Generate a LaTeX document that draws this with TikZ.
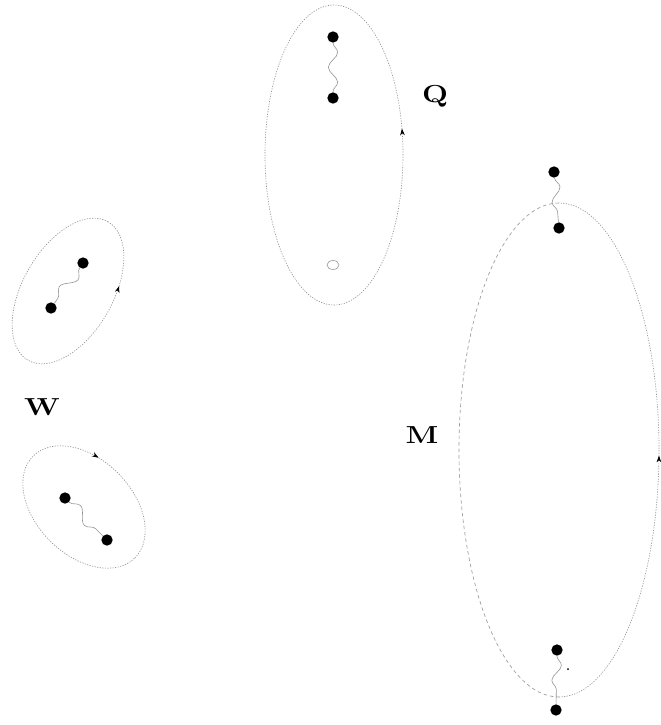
\documentclass[tikz,border=0pt]{standalone}
\usepackage{tikz}
\usetikzlibrary{arrows.meta, decorations.pathmorphing, decorations.markings}

\begin{document}
\begin{tikzpicture}[
  x=0.03cm, y=0.03cm,
  dot/.style={circle, fill=black, inner sep=0pt, minimum size=0.34cm},
  orbit/.style={gray!85, line width=0.55pt, dash pattern=on 1pt off 1.2pt},
  broken/.style={gray!80, line width=0.55pt, dash pattern=on 3pt off 2.5pt},
  wavy/.style={gray!85, line width=0.5pt, decorate, decoration={snake, amplitude=1.4mm, segment length=9mm}},
  flow/.style={postaction={decorate, decoration={markings, mark=at position #1 with {\arrow{Stealth[length=2mm, width=1.4mm, color=black]}}}}},
  backflow/.style={postaction={decorate, decoration={markings, mark=at position #1 with {\arrowreversed{Stealth[length=2mm, width=1.4mm, color=black]}}}}},
  lbl/.style={font=\fontsize{21}{25}\selectfont\bfseries, xscale=1.25, transform shape}
]
  \useasboundingbox (0,0) rectangle (660,-725);

  % Q
  \draw[orbit, flow=0.037] (334,-155) ellipse [x radius=69, y radius=150];
  \draw[gray!80, line width=0.5pt] (333,-265) ellipse [x radius=6, y radius=4.5];
  \node[dot] (q1) at (333,-37) {};
  \node[dot] (q2) at (333,-98) {};
  \draw[wavy] (q1) -- (q2);
  \node[lbl] (qlabel) at (435,-96) {Q};

  % W, upper pair
  \draw[orbit, flow=0.825, rotate around={60:(68,-291)}] (68,-291) ellipse [x radius=80, y radius=45];
  \node[dot] (w1) at (83,-263) {};
  \node[dot] (w2) at (51,-308) {};
  \draw[wavy, decoration={amplitude=1.7mm, segment length=10mm}] (w1) -- (w2);

  % W, lower pair
  \draw[orbit, backflow=0.315, rotate around={-45:(84,-507)}] (84,-507) ellipse [x radius=72, y radius=48];
  \node[dot] (w3) at (65,-498) {};
  \node[dot] (w4) at (107,-540) {};
  \draw[wavy, decoration={amplitude=1.7mm, segment length=10mm}] (w3) -- (w4);
  \node[lbl] (wlabel) at (42,-407) {W};

  % M
  \draw[broken] (559,-203) arc [start angle=90, end angle=270, x radius=100, y radius=247];
  \draw[orbit, flow=0.49] (559,-697) arc [start angle=-90, end angle=90, x radius=100, y radius=247];
  \node[dot] (m1) at (554,-172) {};
  \node[dot] (m2) at (559,-228) {};
  \draw[wavy] (m1) -- (m2);
  \node[dot] (m3) at (557,-650) {};
  \node[dot] (m4) at (556,-710) {};
  \draw[wavy] (m3) -- (m4);
  \fill (568,-669) circle [radius=1];
  \node[lbl] (mlabel) at (422,-435) {M};
\end{tikzpicture}
\end{document}
